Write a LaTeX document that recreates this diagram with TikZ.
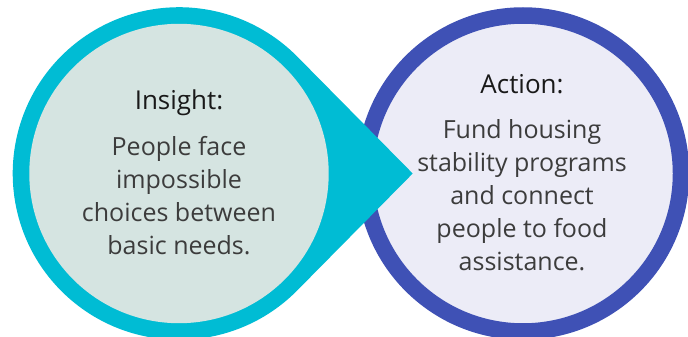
\documentclass[tikz,border=0pt]{standalone}
\usepackage{fontspec}
\setmainfont{Open Sans}
\usetikzlibrary{calc,positioning}

\definecolor{tealring}{RGB}{0,188,212}
\definecolor{tealfill}{RGB}{213,228,225}
\definecolor{bluering}{RGB}{63,81,181}
\definecolor{bluefill}{RGB}{236,236,247}
\definecolor{bodygray}{RGB}{60,60,60}

\begin{document}
\begin{tikzpicture}[x=1pt,y=-1pt]
  \tikzset{
  ring/.style = {circle, inner sep=0pt, minimum size=#1},
  headtext/.style = {font=\fontsize{26}{30}\selectfont, text=black!90,
    anchor=base},
  bodytext/.style = {font=\fontsize{25}{33}\selectfont, text=bodygray,
    align=center, anchor=base}% base = last line here
}
\useasboundingbox (0,0) rectangle (688,337);

% right bubble goes first, the teal point lies over its rim
\node [ring=316pt, draw=bluering, line width=16.5pt, fill=bluefill] (action)
  at (523,173.5) {};

% left bubble: outer disc drawn out to a point
\coordinate (insightc) at (179,173.5);
\coordinate (tip) at (412.7,173.5);
\fill [tealring] (tip) -- ($(insightc)+(44.6:166.3)$)
  arc [start angle=44.6, end angle=315.4, radius=166.3] -- cycle;
\node [ring=299.4pt, fill=tealfill] (insight) at (insightc) {};

\node [headtext] (insightHead) at (179,110) {Insight:};
\node [bodytext] (insightBody) at (179,254)
  {People face\\impossible\\choices between\\basic needs.};

\node [headtext] (actionHead) at (522,93) {Action:};
\node [bodytext] (actionBody) at (522,270.5)
  {Fund housing\\stability programs\\and connect\\people to food\\assistance.};
\end{tikzpicture}
\end{document}
